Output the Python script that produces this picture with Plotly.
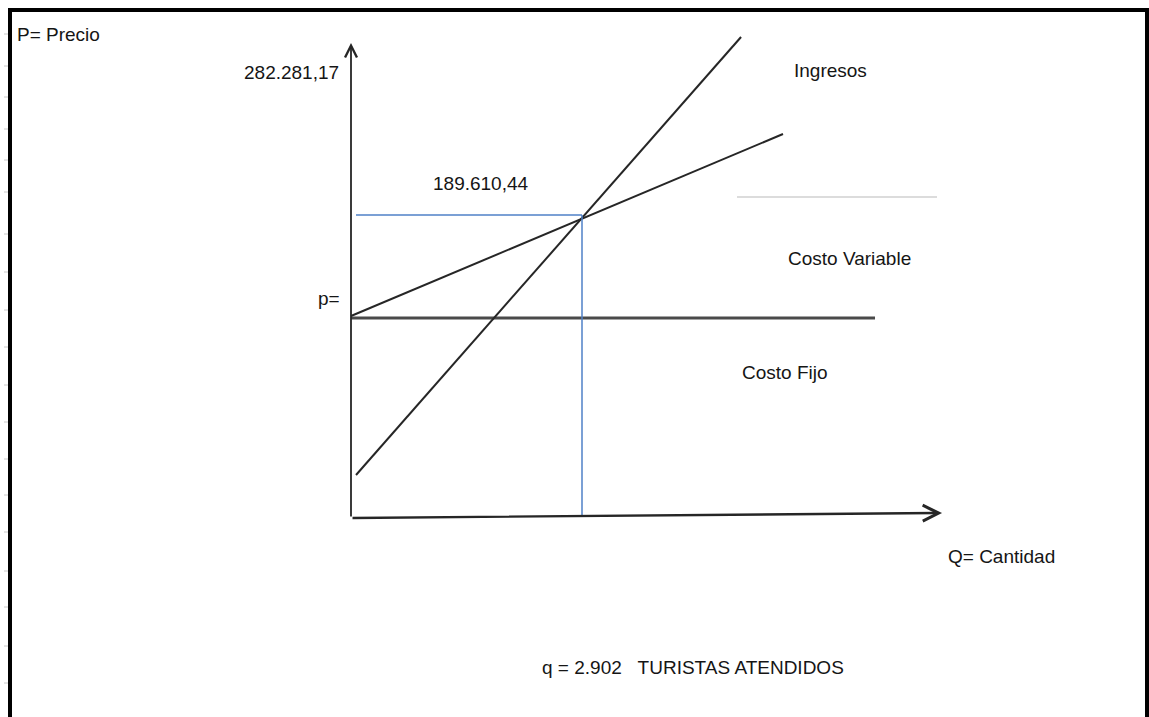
import plotly.graph_objects as go

# break-even chart data (Q = tourists, P = price)
q_break = 2902
p_break = 189610.44
p_max = 282281.17
fixed_cost = 125156

fc_q = [0, 6583]
fc_p = [fixed_cost, fixed_cost]

cv_q = [0, 5427]
cv_p = [126400, 240300]

ing_q = [63, 4900]
ing_p = [26908, 301000]

gray_q = [4849, 7362]
gray_p = [200875, 200875]

axis_q_end = 7425
axis_p_end = 297246

W, H = 1149, 717
# pixel -> data scale (origin of the drawing at pixel 351, 518)
ox, oy = 351, 518
sx = q_break / (582 - ox)
sy = p_break / (oy - 215)

def px(x):
    return (x - ox) * sx

def py(y):
    return (oy - y) * sy

FONT = "Liberation Sans Narrow, Liberation Sans, Arial, sans-serif"
TXT = "#151515"

fig = go.Figure()

fig.add_trace(go.Scatter(x=fc_q, y=fc_p, mode="lines",
                         line=dict(color="#4a4a4a", width=3)))
fig.add_trace(go.Scatter(x=cv_q, y=cv_p, mode="lines",
                         line=dict(color="#262626", width=2)))
fig.add_trace(go.Scatter(x=ing_q, y=ing_p, mode="lines",
                         line=dict(color="#262626", width=2)))
fig.add_trace(go.Scatter(x=gray_q, y=gray_p, mode="lines",
                         line=dict(color="#d0d0d0", width=1.5)))
# break-even guides
fig.add_trace(go.Scatter(x=[63, q_break], y=[p_break, p_break], mode="lines",
                         line=dict(color="#4f81c7", width=1.5)))
fig.add_trace(go.Scatter(x=[q_break, q_break], y=[p_break, 1900], mode="lines",
                         line=dict(color="#4f81c7", width=1.5)))

# axes with arrows
fig.add_annotation(x=0, y=axis_p_end, ax=0, ay=0, xref="x", yref="y",
                   axref="x", ayref="y", text="", showarrow=True,
                   arrowhead=5, arrowsize=1.3, arrowwidth=1.8, arrowcolor="#262626")
fig.add_annotation(x=axis_q_end, y=3129, ax=0, ay=0, xref="x", yref="y",
                   axref="x", ayref="y", text="", showarrow=True,
                   arrowhead=5, arrowsize=1.3, arrowwidth=2.4, arrowcolor="#262626")

labels = [
    ("P= Precio", px(15), py(34), "left"),
    ("282.281,17", px(341), py(72), "right"),
    ("189.610,44", px(481), py(183), "center"),
    ("p=", px(316), py(298), "left"),
    ("Ingresos", px(792), py(70), "left"),
    ("Costo Variable", px(786), py(258), "left"),
    ("Costo Fijo", px(740), py(372), "left"),
    ("Q= Cantidad", px(946), py(556), "left"),
    ("q = 2.902\u00a0\u00a0\u00a0TURISTAS ATENDIDOS", px(540), py(667), "left"),
]
for t, x, y, anchor in labels:
    fig.add_annotation(x=x, y=y, xref="x", yref="y", text=t, showarrow=False,
                       xanchor=anchor, yanchor="middle",
                       font=dict(family=FONT, size=19, color=TXT))

shapes = [dict(type="rect", xref="paper", yref="paper",
               x0=10 / W, x1=1147 / W, y0=-0.05, y1=1 - 10 / H,
               line=dict(color="#000000", width=4), layer="above")]
row_marks = [34, 66, 97, 129, 160, 192, 234, 272, 310, 347, 385, 422,
             459, 495, 532, 571, 607, 646, 683]
for r in row_marks:
    shapes.append(dict(type="line", xref="paper", yref="paper",
                       x0=4 / W, x1=8 / W, y0=1 - r / H, y1=1 - r / H,
                       line=dict(color="#c8c8c8", width=1)))

fig.update_layout(
    width=W, height=H,
    margin=dict(l=0, r=0, t=0, b=0),
    paper_bgcolor="white", plot_bgcolor="white",
    showlegend=False,
    shapes=shapes,
    xaxis=dict(range=[px(0), px(W)], visible=False, fixedrange=True),
    yaxis=dict(range=[py(H), py(0)], visible=False, fixedrange=True),
)

fig.write_html("out.html", config={"displayModeBar": False},
               post_script="document.body.style.margin='0';")
